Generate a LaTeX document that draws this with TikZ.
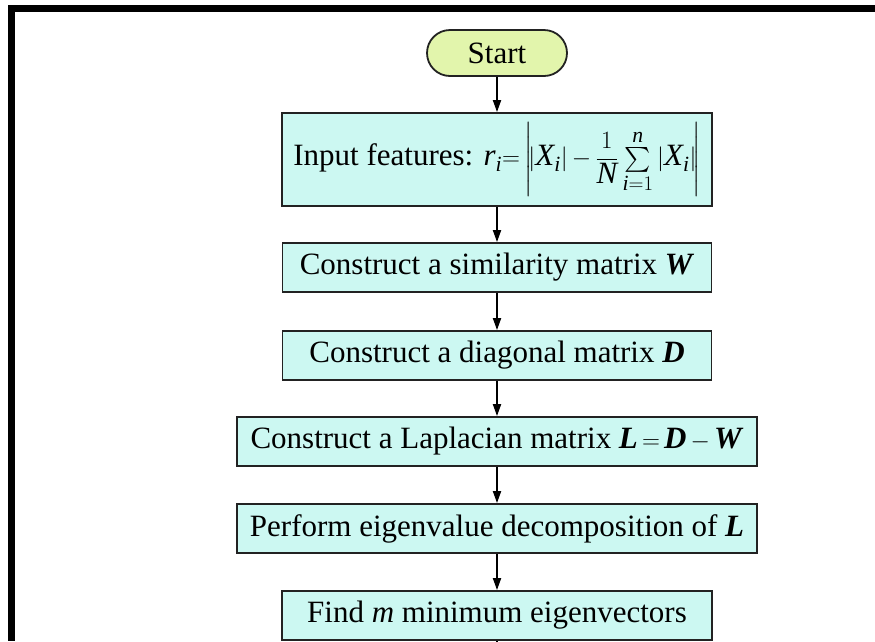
\documentclass[tikz,border=0pt]{standalone}
\usepackage{amsmath}
\usepackage{fontspec}
\setmainfont{Liberation Serif}
\DeclareSymbolFont{letters}{TU}{\rmdefault}{m}{it}
\usetikzlibrary{positioning,arrows.meta,shapes.misc}

\definecolor{stepfill}{HTML}{CCF8F2}
\definecolor{startfill}{HTML}{E2F5AC}
\definecolor{rand}{HTML}{222222}

\tikzset{
    stepbox/.style={draw=rand, line width=1.8pt, fill=stepfill, inner sep=0pt, minimum height=49},
    startnode/.style={rounded rectangle, draw=rand, line width=1.8pt, fill=startfill, inner sep=0pt, minimum width=140, minimum height=46},
    flow/.style={draw=black, line width=1.8pt, -{Triangle[length=12pt,width=8pt]}}
}

\begin{document}
\begin{tikzpicture}[x=1pt, y=-1pt, font=\fontsize{31}{37}\selectfont]
    \useasboundingbox (0,0) rectangle (875,641);
    % Kader
    \fill[black] (8,5) rectangle (875,12);
    \fill[black] (8,5) rectangle (15,641);

    % Stappen
    \node[startnode] (start) at (497,53) {Start};
    \node[stepbox, minimum width=430, minimum height=93] (input) at (497,159.5)
        {Input features: $r_i{=}\left|\!|X_i|\,{-}\,\dfrac{1}{N}\sum\limits_{i=1}^{n}|X_i|\!\right|$};
    \node[stepbox, minimum width=429] (simil) at (497,267.5) {Construct a similarity matrix \textbf{\textit{W}}};
    \node[stepbox, minimum width=429] (diag) at (497,355.5) {Construct a diagonal matrix \textbf{\textit{D}}};
    \node[stepbox, minimum width=520] (lapl) at (497,441.5) {Construct a Laplacian matrix \textbf{\textit{L}}$\,{=}\,$\textbf{\textit{D}}$\,{-}\,$\textbf{\textit{W}}};
    \node[stepbox, minimum width=520] (eigen) at (497,528.5) {Perform eigenvalue decomposition of \textbf{\textit{L}}};
    \node[stepbox, minimum width=430] (find) at (497,615.5) {Find \textit{m} minimum eigenvectors};
    \coordinate (verder) at (497,680);

    % Pijlen
    \draw[flow] (start) -- (input);
    \draw[flow] (input) -- (simil);
    \draw[flow] (simil) -- (diag);
    \draw[flow] (diag) -- (lapl);
    \draw[flow] (lapl) -- (eigen);
    \draw[flow] (eigen) -- (find);
    \draw[line width=1.8pt] (find) -- (verder);
\end{tikzpicture}
\end{document}
